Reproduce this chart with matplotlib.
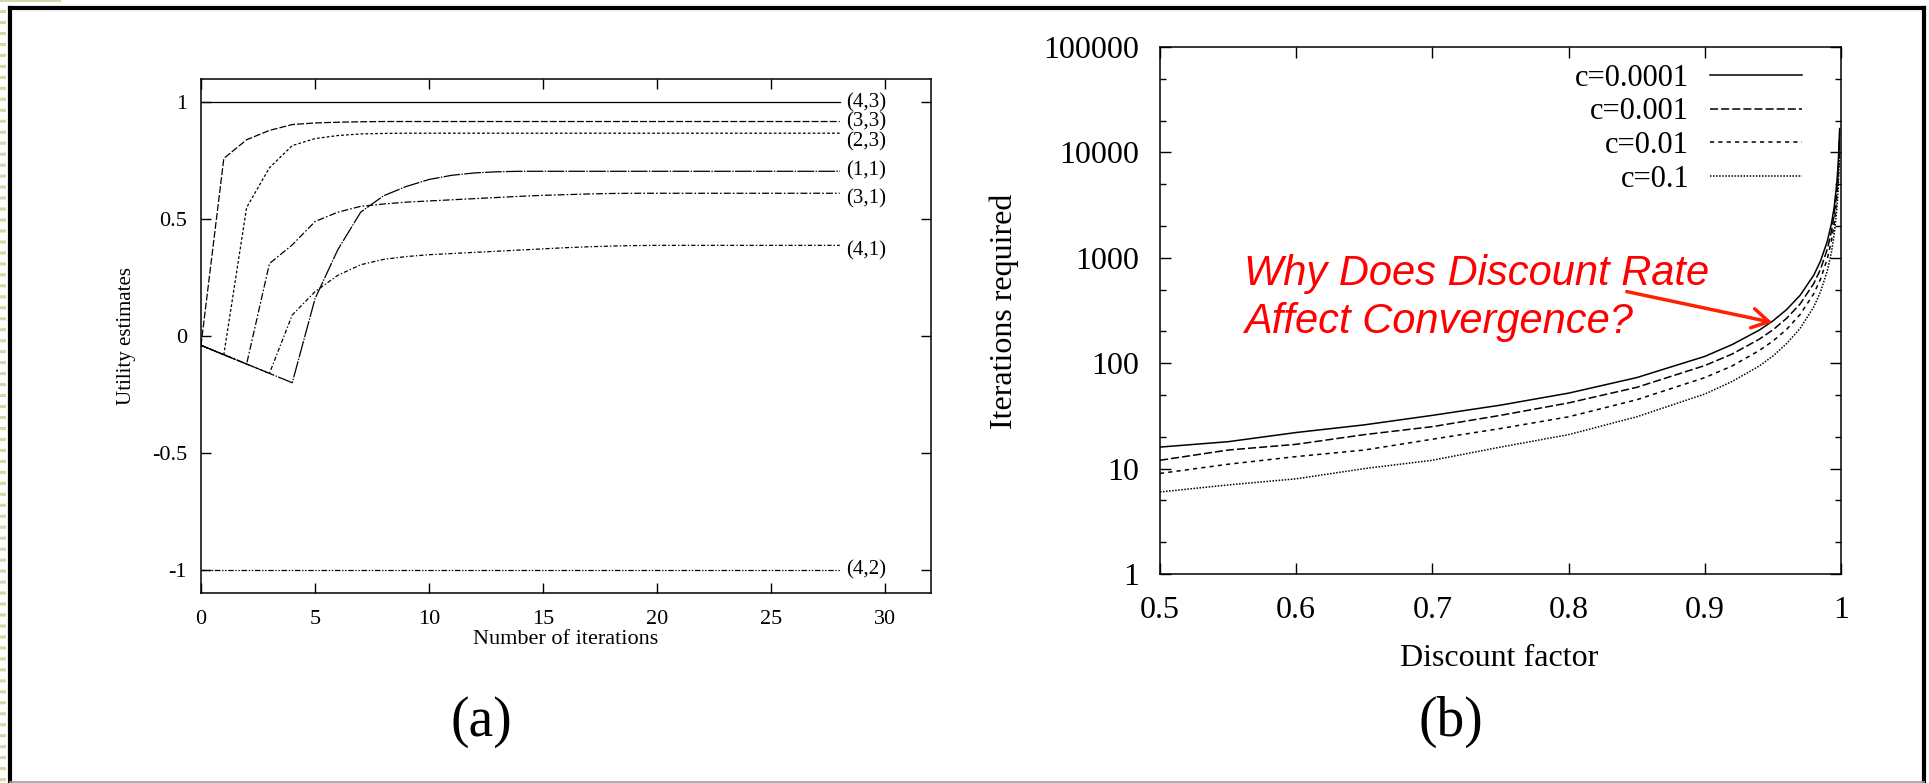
import matplotlib
matplotlib.use('Agg')
import matplotlib.pyplot as plt
from matplotlib.lines import Line2D
from matplotlib.ticker import LogLocator, FuncFormatter, NullFormatter

plt.rcParams['font.family'] = ['Liberation Serif', 'DejaVu Serif']
plt.rcParams['axes.unicode_minus'] = False
plt.rcParams['lines.scale_dashes'] = False

# ---- (a) utility estimates per state vs. number of iterations ----
iterations = [0, 1, 2, 3, 4, 5, 6, 7, 8, 9, 10, 11, 12, 13, 14,
              15, 16, 17, 18, 19, 20, 21, 22, 23, 24, 25, 26, 27, 28]
u_33 = [-0.04, 0.76, 0.84, 0.88, 0.905, 0.912, 0.915, 0.917, 0.918, 0.918,
        0.918, 0.918, 0.918, 0.918, 0.918, 0.918, 0.918, 0.918, 0.918, 0.918,
        0.918, 0.918, 0.918, 0.918, 0.918, 0.918, 0.918, 0.918, 0.918]
u_23 = [-0.04, -0.08, 0.55, 0.72, 0.815, 0.845, 0.858, 0.865, 0.867, 0.868,
        0.868, 0.868, 0.868, 0.868, 0.868, 0.868, 0.868, 0.868, 0.868, 0.868,
        0.868, 0.868, 0.868, 0.868, 0.868, 0.868, 0.868, 0.868, 0.868]
u_11 = [-0.04, -0.08, -0.12, -0.16, -0.2, 0.16, 0.37, 0.53, 0.6, 0.64,
        0.67, 0.688, 0.698, 0.703, 0.705, 0.705, 0.705, 0.705, 0.705, 0.705,
        0.705, 0.705, 0.705, 0.705, 0.705, 0.705, 0.705, 0.705, 0.705]
u_31 = [-0.04, -0.08, -0.12, 0.31, 0.39, 0.49, 0.53, 0.555, 0.565, 0.573,
        0.578, 0.583, 0.588, 0.593, 0.598, 0.602, 0.605, 0.608, 0.61, 0.611,
        0.611, 0.611, 0.611, 0.611, 0.611, 0.611, 0.611, 0.611, 0.611]
u_41 = [-0.04, -0.08, -0.12, -0.16, 0.09, 0.19, 0.26, 0.305, 0.328, 0.34,
        0.348, 0.353, 0.358, 0.363, 0.368, 0.373, 0.378, 0.382, 0.385, 0.387,
        0.388, 0.388, 0.388, 0.388, 0.388, 0.388, 0.388, 0.388, 0.388]
terminal_iters = [0, 28]
u_43 = [1.0, 1.0]
u_42 = [-1.0, -1.0]

# ---- (b) iterations required vs. discount factor ----
gamma = [0.5, 0.55, 0.6, 0.65, 0.7, 0.75, 0.8, 0.85, 0.9, 0.92, 0.94, 0.95,
         0.96, 0.97, 0.98, 0.985, 0.99, 0.993, 0.995, 0.997, 0.998, 0.999]
n_c0001 = [16, 18, 22, 26, 32, 40, 52, 73, 116, 150, 206, 252,
           322, 441, 684, 934, 1444, 2116, 3033, 5229, 8051, 16803]
n_c001 = [12, 15, 17, 21, 25, 32, 42, 59, 95, 122, 169, 207,
          266, 365, 570, 781, 1215, 1788, 2573, 4463, 6901, 14502]
n_c01 = [9, 11, 13, 15, 19, 24, 31, 45, 73, 94, 132, 162,
         209, 290, 456, 629, 986, 1461, 2114, 3696, 5751, 12200]
n_c1 = [6, 7, 8, 10, 12, 16, 21, 31, 51, 67, 94, 117,
        153, 214, 342, 477, 757, 1133, 1655, 2930, 4601, 9899]

W, H = 1929, 783
fig = plt.figure(figsize=(W / 100, H / 100), dpi=100)
fig.patch.set_facecolor('white')

# ---------------- panel (a) ----------------
ax1 = fig.add_axes([201 / W, 1 - 593 / H, 730 / W, 514 / H])
ax1.plot(terminal_iters, u_43, color='black', lw=0.9)
ax1.plot(iterations, u_33, color='black', lw=0.9, dashes=(5, 1.5))
ax1.plot(iterations, u_23, color='black', lw=0.9, dashes=(2, 1.5))
ax1.plot(iterations, u_11, color='black', lw=0.9, dashes=(12, 1, 1, 1))
ax1.plot(iterations, u_31, color='black', lw=0.9, dashes=(5, 1.5, 1.2, 1.5))
ax1.plot(iterations, u_41, color='black', lw=0.9, dashes=(3, 1.5, 1, 1.5))
ax1.plot(terminal_iters, u_42, color='black', lw=0.9,
         dashes=(4, 1.2, 1, 1.2, 1, 1.2))

state_labels = ['(4,3)', '(3,3)', '(2,3)', '(1,1)', '(3,1)', '(4,1)', '(4,2)']
state_final = [u_43[-1], u_33[-1], u_23[-1], u_11[-1], u_31[-1], u_41[-1], u_42[-1]]
label_nudge = [0, 0, -6, 0, -4, -4, 0]
for lab, val, dy in zip(state_labels, state_final, label_nudge):
    ax1.annotate(lab, xy=(28.3, val), xytext=(0, dy), textcoords='offset points',
                 ha='left', va='center', fontsize=15)

ax1.set_xlim(0, 32)
ax1.set_ylim(-1.1, 1.1)
ax1.set_xticks([0, 5, 10, 15, 20, 25, 30])
ax1.set_yticks([-1, -0.5, 0, 0.5, 1])
ax1.yaxis.set_major_formatter(FuncFormatter(lambda v, p: f'{v:g}'))
ax1.tick_params(direction='in', length=7, width=1, top=True, right=True,
                labelsize=16)
ax1.tick_params(axis='x', pad=12)
ax1.tick_params(axis='y', pad=10)
for s in ax1.spines.values():
    s.set_linewidth(1.1)

# ---------------- panel (b) ----------------
ax2 = fig.add_axes([1160 / W, 1 - 574 / H, 681 / W, 527 / H])
ax2.plot(gamma, n_c0001, color='black', lw=1.1, label='c=0.0001')
ax2.plot(gamma, n_c001, color='black', lw=1.1, dashes=(5.8, 2.2), label='c=0.001')
ax2.plot(gamma, n_c01, color='black', lw=1.1, dashes=(3, 3), label='c=0.01')
ax2.plot(gamma, n_c1, color='black', lw=1.1, dashes=(1.1, 1.1), label='c=0.1')

ax2.set_yscale('log')
ax2.set_xlim(0.5, 1)
ax2.set_ylim(1, 100000)
ax2.set_xticks([0.5, 0.6, 0.7, 0.8, 0.9, 1.0])
ax2.xaxis.set_major_formatter(FuncFormatter(lambda v, p: f'{v:g}'))
ax2.set_yticks([1, 10, 100, 1000, 10000, 100000])
ax2.yaxis.set_major_formatter(FuncFormatter(lambda v, p: f'{int(round(v))}'))
ax2.yaxis.set_minor_locator(LogLocator(base=10, subs=(2, 5)))
ax2.yaxis.set_minor_formatter(NullFormatter())
ax2.tick_params(which='major', direction='in', length=8, width=1, top=True,
                right=True, labelsize=23)
ax2.tick_params(which='minor', direction='in', length=4.5, width=1, right=True)
ax2.tick_params(axis='x', pad=16)
ax2.tick_params(axis='y', pad=15)
for s in ax2.spines.values():
    s.set_linewidth(1.1)

ax2.legend(loc='upper right', bbox_to_anchor=(0.9427, 0.968), borderaxespad=0,
           borderpad=0, frameon=False, markerfirst=False, handlelength=3.0,
           handletextpad=0.69, labelspacing=0.15, fontsize=22)

# red question with arrow
red_font = dict(color='#ff0000', family=['Liberation Sans', 'DejaVu Sans'],
                style='italic', fontsize=30)
fig.text(1244 / W, 1 - 285 / H, 'Why Does Discount Rate', ha='left',
         va='baseline', **red_font)
fig.text(1244 / W, 1 - 333 / H, 'Affect Convergence?', ha='left',
         va='baseline', **red_font)
fig.add_artist(matplotlib.patches.FancyArrowPatch(
    posA=(1624, H - 291), posB=(1775, H - 323), transform=None,
    arrowstyle='->,head_length=0.6,head_width=0.35', mutation_scale=20,
    color='#ff2000', lw=2.5))

# axis titles and panel tags
fig.text(127 / W, 1 - 336 / H, 'Utility estimates', rotation=90,
         ha='center', va='center', fontsize=15)
fig.text(566 / W, 1 - 639 / H, 'Number of iterations', ha='center',
         va='center', fontsize=16)
fig.text(1004 / W, 1 - 311 / H, 'Iterations required', rotation=90,
         ha='center', va='center', fontsize=23)
fig.text(1499 / W, 1 - 658 / H, 'Discount factor', ha='center',
         va='center', fontsize=23)
fig.text(481 / W, 1 - 722 / H, '(a)', ha='center', va='center', fontsize=40)
fig.text(1451 / W, 1 - 722 / H, '(b)', ha='center', va='center', fontsize=40)

# slide frame
def fline(xs, ys, **kw):
    fig.add_artist(Line2D([x / W for x in xs], [1 - y / H for y in ys],
                          transform=fig.transFigure, **kw))

fline([0, 60], [1, 1], color='#d6d6a8', lw=1.5)
fline([3, 3], [10, H], color='#d6d6a8', lw=4.3, dashes=(2.2, 5.7))
fline([9.5, 1923.5], [7.5, 7.5], color='black', lw=3, solid_capstyle='projecting')
fline([9.5, 9.5], [7.5, 781], color='black', lw=3)
fline([1923.5, 1923.5], [7.5, 781], color='black', lw=3)
fline([9.5, 1923.5], [781.5, 781.5], color='#a0a0a0', lw=1.2)

fig.savefig('out.png', dpi=100)
